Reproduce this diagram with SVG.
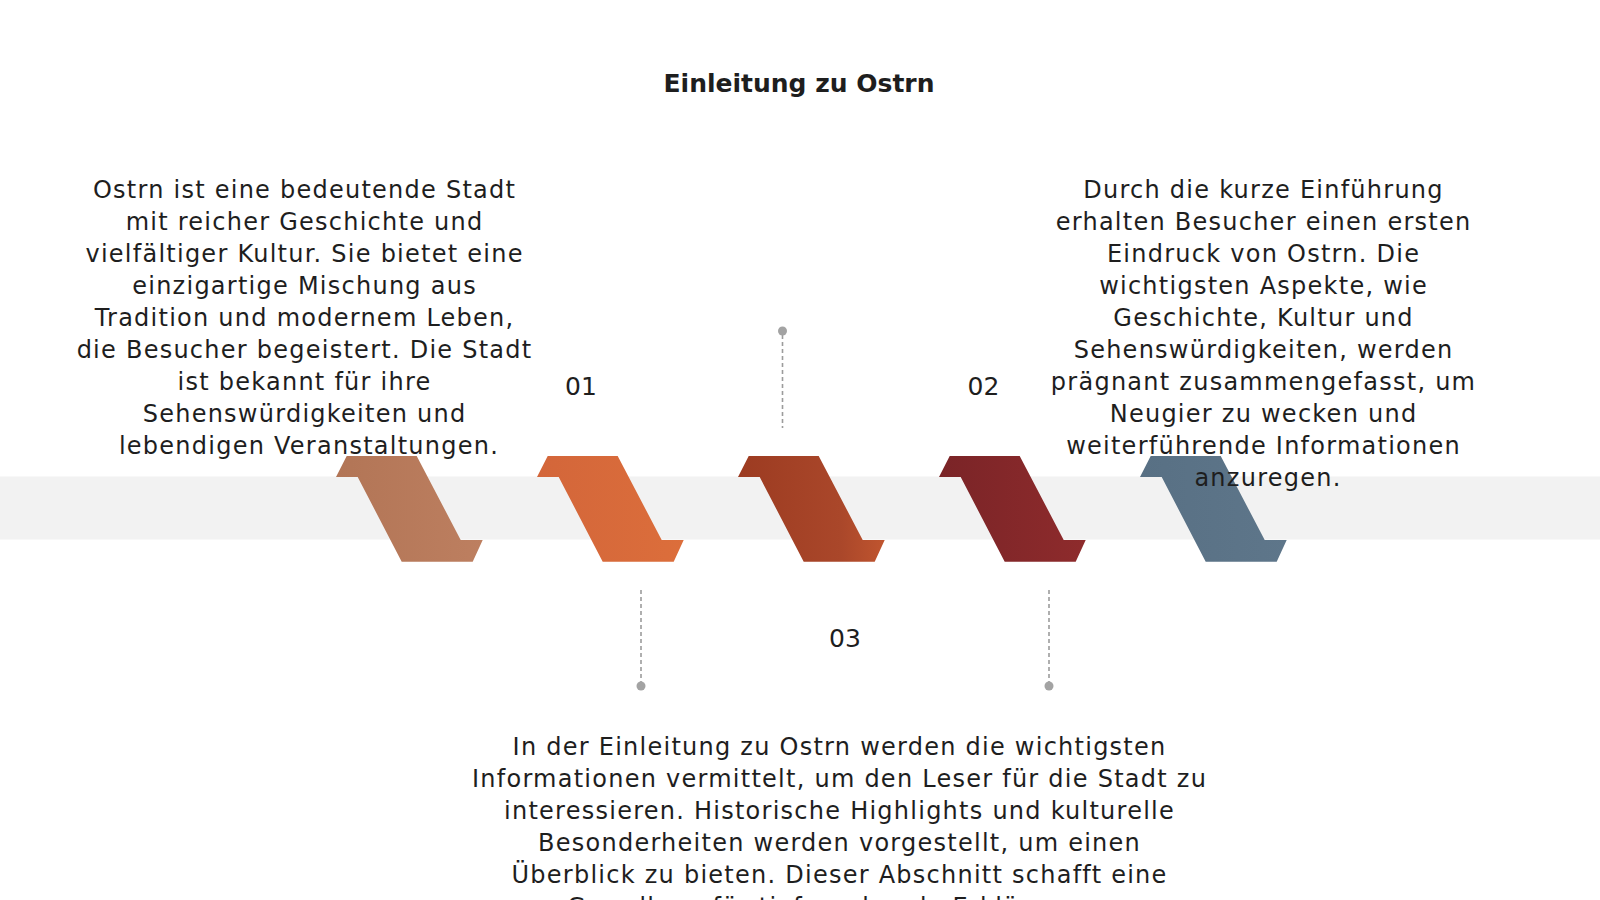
<svg xmlns="http://www.w3.org/2000/svg" width="1600" height="900" viewBox="0 0 1600 900">
<style>
.t{font-family:"DejaVu Sans","Liberation Sans",sans-serif;fill:#1e1e1e;text-anchor:middle}
.body{font-size:24px;letter-spacing:1.25px}
.num{font-size:25px}
.title{font-size:25px;font-weight:700}
.dash{stroke:#9c9c9c;stroke-width:1.6;stroke-dasharray:4 3;fill:none}
.dot{fill:#a3a3a3}
</style>
<defs>
<path id="chev" d="M0,477 L10.7,456 L80.7,456 L124.7,540 L146.7,540 L136.7,561.7 L65.7,561.7 L21.7,477 Z"/>
<linearGradient id="g1" x1="0" y1="0" x2="1" y2="0"><stop offset="0" stop-color="#b27556"/><stop offset="1" stop-color="#bd7f60"/></linearGradient>
<linearGradient id="g2" x1="0" y1="0" x2="1" y2="0"><stop offset="0" stop-color="#d3663a"/><stop offset="1" stop-color="#dc6e3b"/></linearGradient>
<linearGradient id="g3" x1="0" y1="0" x2="1" y2="0"><stop offset="0" stop-color="#9c3b21"/><stop offset="0.7" stop-color="#aa472a"/><stop offset="1" stop-color="#c0552f"/></linearGradient>
<linearGradient id="g4" x1="0" y1="0" x2="1" y2="0"><stop offset="0" stop-color="#7a2427"/><stop offset="1" stop-color="#8e2b2c"/></linearGradient>
<linearGradient id="g5" x1="0" y1="0" x2="1" y2="0"><stop offset="0" stop-color="#587084"/><stop offset="1" stop-color="#5e768a"/></linearGradient>
</defs>
<rect width="1600" height="900" fill="#ffffff"/>
<rect id="band" x="0" y="476.5" width="1600" height="63" fill="#f2f2f2"/>
<g id="title"><text class="t title" x="799" y="92">Einleitung zu Ostrn</text></g>
<g id="connectors">
<line class="dash" x1="782.5" y1="335" x2="782.5" y2="428"/>
<circle class="dot" cx="782.5" cy="331" r="4.5"/>
<line class="dash" x1="641" y1="590" x2="641" y2="682"/>
<circle class="dot" cx="641" cy="686" r="4.5"/>
<line class="dash" x1="1049" y1="590" x2="1049" y2="682"/>
<circle class="dot" cx="1049" cy="686" r="4.5"/>
</g>
<g id="step1"><use href="#chev" x="336" fill="url(#g1)"/></g>
<g id="step2"><use href="#chev" x="537" fill="url(#g2)"/></g>
<g id="step3"><use href="#chev" x="738" fill="url(#g3)"/></g>
<g id="step4"><use href="#chev" x="939" fill="url(#g4)"/></g>
<g id="step5"><use href="#chev" x="1140" fill="url(#g5)"/></g>
<g id="label01"><text class="t num" x="581" y="395">01</text></g>
<g id="label02"><text class="t num" x="983.5" y="395">02</text></g>
<g id="label03"><text class="t num" x="845" y="646.5">03</text></g>
<g id="text01"><text class="t body" x="309" y="198">
<tspan x="309" dy="0">Ostrn ist eine bedeutende Stadt</tspan>
<tspan x="309" dy="32">mit reicher Geschichte und</tspan>
<tspan x="309" dy="32">vielfältiger Kultur. Sie bietet eine</tspan>
<tspan x="309" dy="32">einzigartige Mischung aus</tspan>
<tspan x="309" dy="32">Tradition und modernem Leben,</tspan>
<tspan x="309" dy="32">die Besucher begeistert. Die Stadt</tspan>
<tspan x="309" dy="32">ist bekannt für ihre</tspan>
<tspan x="309" dy="32">Sehenswürdigkeiten und</tspan>
<tspan x="309" dy="32">lebendigen Veranstaltungen.</tspan>
</text></g>
<g id="text02"><text class="t body" x="1268" y="198">
<tspan x="1268" dy="0">Durch die kurze Einführung</tspan>
<tspan x="1268" dy="32">erhalten Besucher einen ersten</tspan>
<tspan x="1268" dy="32">Eindruck von Ostrn. Die</tspan>
<tspan x="1268" dy="32">wichtigsten Aspekte, wie</tspan>
<tspan x="1268" dy="32">Geschichte, Kultur und</tspan>
<tspan x="1268" dy="32">Sehenswürdigkeiten, werden</tspan>
<tspan x="1268" dy="32">prägnant zusammengefasst, um</tspan>
<tspan x="1268" dy="32">Neugier zu wecken und</tspan>
<tspan x="1268" dy="32">weiterführende Informationen</tspan>
<tspan x="1268" dy="32">anzuregen.</tspan>
</text></g>
<g id="text03"><text class="t body" x="844" y="755">
<tspan x="844" dy="0">In der Einleitung zu Ostrn werden die wichtigsten</tspan>
<tspan x="844" dy="32">Informationen vermittelt, um den Leser für die Stadt zu</tspan>
<tspan x="844" dy="32">interessieren. Historische Highlights und kulturelle</tspan>
<tspan x="844" dy="32">Besonderheiten werden vorgestellt, um einen</tspan>
<tspan x="844" dy="32">Überblick zu bieten. Dieser Abschnitt schafft eine</tspan>
<tspan x="844" dy="32">Grundlage für tiefergehende Erklärungen.</tspan>
</text></g>
</svg>
